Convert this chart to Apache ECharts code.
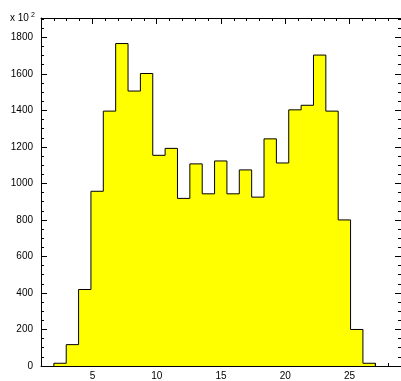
<!DOCTYPE html>
<html>
<head>
<meta charset="utf-8">
<script src="https://cdn.jsdelivr.net/npm/echarts@6/dist/echarts.min.js"></script>
<style>html,body{margin:0;padding:0;background:#fff}#c{width:401px;height:381px}</style>
</head>
<body>
<div id="c"></div>
<script>
// ---- data ----
var binLow = 2;            // lower edge of first filled bin
var binHigh = 27;          // upper edge of last filled bin
var counts = [15, 117, 419, 957, 1396, 1766, 1506, 1602, 1154, 1192, 918, 1107, 943, 1123, 943, 1074, 925, 1244, 1112, 1403, 1428, 1703, 1396, 800, 200, 15];
var xMajorTicks = [5, 10, 15, 20, 25];
var xMinorTicks = [2, 3, 4, 6, 7, 8, 9, 11, 12, 13, 14, 16, 17, 18, 19, 21, 22, 23, 24, 26, 27, 28];
var yMajorTicks = [0, 200, 400, 600, 800, 1000, 1200, 1400, 1600, 1800];
var yMinorTicks = [50, 100, 150, 250, 300, 350, 450, 500, 550, 650, 700, 750, 850, 900, 950, 1050, 1100, 1150, 1250, 1300, 1350, 1450, 1500, 1550, 1650, 1700, 1750, 1850, 1900];
var xMin = 1, xMax = 29, yMin = 0, yMax = 1906;

// histogram outline points (step)
var w = (binHigh - binLow) / counts.length;
var pts = [[binLow, 0]];
for (var i = 0; i < counts.length; i++) pts.push([binLow + i * w, counts[i]]);
pts.push([binHigh, 0]);

var FONT = 'Liberation Sans, Arial, Helvetica, sans-serif';
function fmt(v) { return String(v); }
function xa(pos, ticks, len, line, labels) {
  return {
    type: 'value', min: xMin, max: xMax, position: pos,
    axisLine: {show: line, onZero: false, lineStyle: {color: '#000', width: 1}},
    axisTick: {show: true, inside: true, length: len, customValues: ticks, lineStyle: {color: '#000', width: 1}},
    axisLabel: labels ? {show: true, customValues: ticks, formatter: fmt, color: '#000', fontSize: 10, fontFamily: FONT, margin: 5} : {show: false},
    splitLine: {show: false}
  };
}
function ya(pos, ticks, len, line, labels) {
  return {
    type: 'value', min: yMin, max: yMax, position: pos,
    axisLine: {show: line, onZero: false, lineStyle: {color: '#000', width: 1}},
    axisTick: {show: true, inside: true, length: len, customValues: ticks, lineStyle: {color: '#000', width: 1}},
    axisLabel: labels ? {show: true, customValues: ticks, formatter: fmt, color: '#000', fontSize: 10, fontFamily: FONT, margin: 8} : {show: false},
    splitLine: {show: false}
  };
}

var chart = echarts.init(document.getElementById('c'), null, {renderer: 'canvas'});
chart.setOption({
  animation: false,
  backgroundColor: '#fff',
  grid: {left: 41, right: -1, top: 18, bottom: 11, containLabel: false},
  xAxis: [
    xa('bottom', xMajorTicks, 6, true, true),
    xa('bottom', xMinorTicks, 3, false, false),
    xa('top', xMajorTicks, 6, true, false),
    xa('top', xMinorTicks, 3, false, false)
  ],
  yAxis: [
    ya('left', yMajorTicks, 6, true, true),
    ya('left', yMinorTicks, 3, false, false),
    ya('right', yMajorTicks, 6, true, false),
    ya('right', yMinorTicks, 3, false, false)
  ],
  series: [{
    type: 'line', xAxisIndex: 0, yAxisIndex: 0,
    step: 'end', symbol: 'none', data: pts,
    lineStyle: {color: '#000', width: 1},
    areaStyle: {color: '#ffff00', opacity: 1},
    z: 1
  }],
  graphic: [
    {type: 'text', x: 10, y: 23, style: {text: 'x 10', fill: '#000', font: '10px ' + FONT, textVerticalAlign: 'bottom'}},
    {type: 'text', x: 31, y: 19, style: {text: '2', fill: '#000', font: '7px ' + FONT, textVerticalAlign: 'bottom'}}
  ]
});
</script>
</body>
</html>
